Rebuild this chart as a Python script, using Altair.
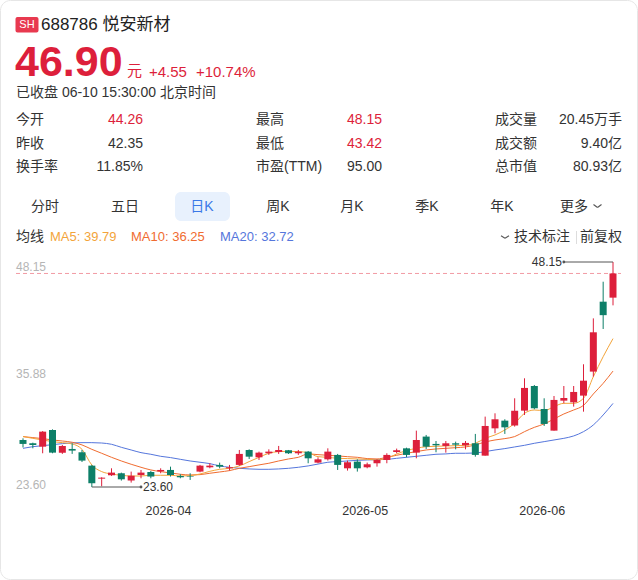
import altair as alt
import pandas as pd

# ---------------- data ----------------
dates = (
    ["2026-03-%02d" % d for d in [11, 12, 13, 16, 17, 18, 19, 20, 23, 24, 25, 26, 27, 30, 31]]
    + ["2026-04-%02d" % d for d in [1, 2, 7, 8, 9, 10, 13, 14, 15, 16, 17, 20, 21, 22, 23, 24, 27, 28, 29, 30]]
    + ["2026-05-%02d" % d for d in [6, 7, 8, 11, 12, 13, 14, 15, 18, 19, 20, 21, 22, 25, 26, 27, 28, 29]]
    + ["2026-06-%02d" % d for d in [1, 2, 3, 4, 5, 8, 9, 10]]
)
opens = [28.73, 28.37, 28.00, 29.82, 27.35, 27.75, 27.39, 25.93, 24.51, 24.88,
         25.10, 24.30, 24.91, 25.24, 25.31, 25.46, 24.80, 24.80, 25.28, 25.75,
         26.01, 25.64, 26.01, 27.64, 26.84, 27.28, 27.42, 27.61, 27.28, 27.46,
         26.26, 26.62, 27.10, 25.64, 26.37, 25.75, 26.19, 26.55, 27.42, 27.82,
         27.35, 29.10, 28.30, 28.08, 28.37, 28.15, 28.37, 27.02, 30.00, 30.84,
         30.30, 31.93, 34.62, 32.11, 29.75, 33.02, 32.84, 33.57, 36.19, 43.82,
         44.26]
highs = [28.91, 28.44, 29.70, 29.89, 28.19, 28.37, 27.64, 26.01, 24.66, 25.64,
         25.17, 25.28, 25.46, 25.35, 25.64, 25.82, 24.99, 25.10, 26.01, 26.19,
         26.26, 26.01, 27.64, 27.71, 27.46, 27.71, 28.08, 27.64, 27.64, 27.53,
         26.84, 27.82, 27.21, 26.48, 26.62, 26.26, 26.62, 27.28, 27.79, 27.89,
         29.75, 29.28, 28.62, 28.62, 28.55, 28.62, 29.39, 31.28, 31.64, 30.99,
         33.28, 35.46, 34.73, 33.28, 33.53, 34.62, 34.62, 36.99, 42.00, 46.00,
         48.15]
lows = [27.91, 27.82, 27.28, 27.28, 27.21, 27.21, 26.33, 23.60, 23.68, 24.81,
        24.30, 24.08, 24.55, 24.55, 25.10, 24.74, 24.55, 24.37, 25.21, 25.64,
        25.64, 25.39, 25.90, 26.66, 26.55, 27.10, 27.21, 27.21, 27.10, 26.19,
        26.19, 26.48, 25.46, 25.39, 25.28, 25.64, 25.82, 26.19, 27.28, 26.84,
        26.73, 27.75, 27.39, 27.35, 27.71, 27.71, 26.91, 27.02, 29.46, 29.39,
        30.19, 31.46, 32.08, 30.26, 29.75, 32.73, 32.37, 31.82, 35.64, 40.84,
        43.42]
closes = [28.30, 28.19, 29.64, 27.35, 28.08, 27.57, 26.48, 24.01, 24.62, 25.17,
          24.44, 24.84, 25.17, 24.74, 25.46, 24.91, 24.66, 24.74, 25.93, 25.93,
          25.82, 25.75, 27.21, 26.91, 27.35, 27.46, 27.64, 27.28, 27.46, 26.73,
          26.62, 27.46, 26.01, 26.30, 25.64, 26.08, 26.55, 27.10, 27.61, 27.10,
          28.73, 28.00, 28.15, 28.37, 28.22, 28.41, 27.10, 30.26, 30.99, 30.11,
          31.93, 34.41, 32.19, 30.48, 33.10, 33.31, 33.97, 35.20, 40.48, 42.35,
          46.90]
ma5 = [29.10, 28.91, 28.73, 28.55, 28.44, 28.30, 27.71, 26.00, 25.28, 25.02,
       24.88, 24.80, 24.80, 24.88, 24.88, 24.88, 24.80, 24.84, 25.02, 25.31,
       25.53, 25.64, 25.90, 26.37, 26.84, 27.28, 27.46, 27.50, 27.46, 27.35,
       26.91, 26.84, 26.73, 26.70, 26.66, 26.62, 26.55, 26.73, 27.20, 27.57,
       27.82, 28.00, 28.04, 28.08, 28.11, 28.15, 28.37, 28.91, 29.28, 29.82,
       30.55, 31.64, 32.00, 31.93, 32.37, 32.73, 32.73, 33.28, 35.64, 37.82,
       39.79]
ma10 = [29.10, 28.99, 28.88, 28.73, 28.62, 28.48, 28.19, 27.71, 27.28, 26.84,
        26.44, 26.08, 25.75, 25.46, 25.28, 25.13, 24.99, 24.91, 24.95, 25.10,
        25.24, 25.39, 25.64, 25.82, 26.01, 26.19, 26.44, 26.66, 26.84, 27.21,
        27.13, 27.06, 26.99, 26.91, 26.84, 26.70, 26.66, 26.84, 27.06, 27.28,
        27.46, 27.64, 27.75, 27.82, 27.89, 27.97, 28.19, 28.51, 28.73, 28.88,
        29.10, 29.64, 30.11, 30.48, 31.02, 31.57, 32.00, 32.51, 33.75, 34.91,
        36.25]
ma20 = [27.82, 28.00, 28.11, 28.22, 28.33, 28.41, 28.44, 28.44, 28.40, 28.26,
        27.93, 27.64, 27.35, 27.17, 26.95, 26.81, 26.62, 26.44, 26.30, 26.15,
        25.90, 25.75, 25.64, 25.57, 25.53, 25.53, 25.57, 25.64, 25.75, 25.90,
        26.10, 26.30, 26.37, 26.44, 26.51, 26.55, 26.59, 26.62, 26.73, 26.84,
        26.95, 27.06, 27.17, 27.21, 27.28, 27.28, 27.31, 27.46, 27.64, 27.79,
        27.97, 28.15, 28.37, 28.55, 28.73, 28.91, 29.17, 29.64, 30.37, 31.46,
        32.72]

y_ticks = [48.15, 35.88, 23.60]
last_close = 46.90
max_high = 48.15
min_low = 23.60

stock_code = "688786"
stock_name = "悦安新材"
price_text = "46.90"
change_text = "+4.55"
pct_text = "+10.74%"
status_text = "已收盘 06-10 15:30:00 北京时间"

info_labels = [["今开", "昨收", "换手率"], ["最高", "最低", "市盈(TTM)"], ["成交量", "成交额", "总市值"]]
info_values = [["44.26", "42.35", "11.85%"], ["48.15", "43.42", "95.00"], ["20.45万手", "9.40亿", "80.93亿"]]
info_red = [[True, False, False], [True, True, False], [False, False, False]]

tabs = ["分时", "五日", "日K", "周K", "月K", "季K", "年K", "更多"]
ma_labels = ["MA5: 39.79", "MA10: 36.25", "MA20: 32.72"]

# ---------------- styling ----------------
FONT = "Liberation Sans, Noto Sans CJK SC, sans-serif"
RED = "#dd1f3b"
GREEN = "#0d7f68"
TXT = "#333333"
C5, C10, C20 = "#f3a43a", "#f06c30", "#5576dc"

df = pd.DataFrame({"i": list(range(len(dates))), "date": dates, "open": opens,
                   "high": highs, "low": lows, "close": closes,
                   "ma5": ma5, "ma10": ma10, "ma20": ma20})
df["dir"] = ["up" if c >= o else "down" for o, c in zip(opens, closes)]

n = len(dates)
xs = alt.Scale(domain=[0, n - 1], range=[18, 618], nice=False, zero=False)
ys = alt.Scale(domain=[min_low, max_high], range=[487, 262], nice=False, zero=False)
cs = alt.Scale(domain=["up", "down"], range=[RED, GREEN])

one = pd.DataFrame({"k": [0]})


def txt(t, x, y, size=14, color=TXT, weight="normal", align="left", baseline="middle", font=FONT):
    return alt.Chart(one).mark_text(fontSize=size, color=color, fontWeight=weight,
                                    align=align, baseline=baseline, font=font).encode(
        x=alt.value(x), y=alt.value(y), text=alt.value(t))


def box(x, x2, y, y2, fill, radius=0, stroke=None):
    kw = dict(cornerRadius=radius, fill=fill)
    if stroke:
        kw.update(stroke=stroke, strokeWidth=1)
    return alt.Chart(one).mark_rect(**kw).encode(
        x=alt.value(x), x2=alt.value(x2), y=alt.value(y), y2=alt.value(y2))


layers = []
# card
layers.append(box(0.5, 637.5, 0.5, 579.5, "#ffffff", radius=10, stroke="#e6e6e6"))

# header
layers.append(box(15.5, 38.5, 17, 32.5, "#e8394f", radius=2))
layers.append(txt("SH", 27, 25, size=11, color="#ffffff", align="center"))
layers.append(txt(stock_code + " " + stock_name, 41, 24.5, size=17, color="#222222"))
layers.append(txt(price_text, 15, 76, size=43, color=RED, weight="bold", baseline="alphabetic"))
layers.append(txt("元", 127, 76, size=15, color=RED, baseline="alphabetic"))
layers.append(txt(change_text, 149, 77, size=15, color=RED, baseline="alphabetic"))
layers.append(txt(pct_text, 196, 77, size=15, color=RED, baseline="alphabetic"))
layers.append(txt(status_text, 16, 92.5, size=14, color=TXT))

# info grid
label_x = [16, 256, 495]
value_x = [143, 382, 622]
row_y = [120, 144, 167]
for c in range(3):
    for r in range(3):
        layers.append(txt(info_labels[c][r], label_x[c], row_y[r], size=14, color=TXT))
        layers.append(txt(info_values[c][r], value_x[c], row_y[r], size=14,
                          color=RED if info_red[c][r] else TXT, align="right"))

# tabs
tab_x = [45, 125, 202, 278, 352, 427, 502, 577]
layers.append(box(175, 230, 192, 221, "#e8f1fd", radius=6))
for t, x in zip(tabs, tab_x):
    col = "#3b78e7" if t == "日K" else TXT
    if t == "更多":
        layers.append(txt(t, x - 3, 207, size=14, color=TXT, align="center"))
    else:
        layers.append(txt(t, x, 207, size=14, color=col, align="center"))

# small chevrons drawn as two short rules each
for (cx, cy, hw, hh, colr) in [(597.5, 206, 4, 3, "#555555"), (505, 237, 4, 2.5, "#555555")]:
    layers.append(alt.Chart(one).mark_rule(color=colr, strokeWidth=1.1).encode(
        x=alt.value(cx - hw), y=alt.value(cy - hh / 2), x2=alt.value(cx), y2=alt.value(cy + hh / 2)))
    layers.append(alt.Chart(one).mark_rule(color=colr, strokeWidth=1.1).encode(
        x=alt.value(cx), y=alt.value(cy + hh / 2), x2=alt.value(cx + hw), y2=alt.value(cy - hh / 2)))

# MA legend row
layers.append(txt("均线", 16, 237, size=14, color=TXT))
for t, x, col in zip(ma_labels, [50, 131, 220], [C5, C10, C20]):
    layers.append(txt(t, x, 237, size=13, color=col))
layers.append(txt("技术标注", 514, 237, size=14, color=TXT))
layers.append(alt.Chart(one).mark_rule(color="#dddddd").encode(
    x=alt.value(576.5), y=alt.value(231), y2=alt.value(244)))
layers.append(txt("前复权", 622, 237, size=14, color=TXT, align="right"))

# ---------------- price chart ----------------
X = alt.X("i:Q", scale=xs, axis=None)

# last-close dashed line
lc = pd.DataFrame({"v": [last_close]})
layers.append(alt.Chart(lc).mark_rule(color="#f29aa4", strokeDash=[4, 3], strokeWidth=1).encode(
    x=alt.value(16), x2=alt.value(621), y=alt.Y("v:Q", scale=ys, axis=None)))

# y labels
for v, dy in zip(y_ticks, [5, 0, -2]):
    layers.append(alt.Chart(pd.DataFrame({"v": [v]})).mark_text(
        align="left", baseline="middle", dy=dy, fontSize=12, color="#b5b5b5", font=FONT).encode(
        x=alt.value(16), y=alt.Y("v:Q", scale=ys, axis=None), text=alt.Text("v:Q", format=".2f")))

# moving averages
for col, c in [("ma20", C20), ("ma10", C10), ("ma5", C5)]:
    layers.append(alt.Chart(df).mark_line(color=c, strokeWidth=1, interpolate="monotone").encode(
        x=X, y=alt.Y(col + ":Q", scale=ys, axis=None)))

# candles
layers.append(alt.Chart(df).mark_rule(strokeWidth=1).encode(
    x=X, y=alt.Y("low:Q", scale=ys, axis=None), y2="high:Q",
    color=alt.Color("dir:N", scale=cs, legend=None)))
layers.append(alt.Chart(df).mark_bar(size=7).encode(
    x=X, y=alt.Y("open:Q", scale=ys, axis=None), y2="close:Q",
    color=alt.Color("dir:N", scale=cs, legend=None)))

# max / min annotations
i_max = highs.index(max_high)
i_min = lows.index(min_low)
ann = pd.DataFrame({
    "a": [i_max - 5, i_min], "b": [i_max, i_min + 5], "v": [max_high, min_low],
    "dot": [i_max - 5, i_min + 5], "t": ["%.2f" % max_high, "%.2f" % min_low],
})
layers.append(alt.Chart(ann).mark_rule(color="#555555", strokeWidth=1).encode(
    x=alt.X("a:Q", scale=xs, axis=None), x2="b:Q", y=alt.Y("v:Q", scale=ys, axis=None)))
layers.append(alt.Chart(ann).mark_point(filled=True, size=8, color="#555555", opacity=1).encode(
    x=alt.X("dot:Q", scale=xs, axis=None), y=alt.Y("v:Q", scale=ys, axis=None)))
layers.append(alt.Chart(ann.iloc[[0]]).mark_text(align="right", baseline="middle", dx=-2, fontSize=12,
                                                 color=TXT, font=FONT).encode(
    x=alt.X("dot:Q", scale=xs, axis=None), y=alt.Y("v:Q", scale=ys, axis=None), text="t:N"))
layers.append(alt.Chart(ann.iloc[[1]]).mark_text(align="left", baseline="middle", dx=2, fontSize=12,
                                                 color=TXT, font=FONT).encode(
    x=alt.X("dot:Q", scale=xs, axis=None), y=alt.Y("v:Q", scale=ys, axis=None), text="t:N"))

# month labels (first trading day of each new month)
mi, ml = [], []
for k in range(1, n):
    if dates[k][:7] != dates[k - 1][:7]:
        mi.append(k)
        ml.append(dates[k][:7])
months = pd.DataFrame({"i": mi, "label": ml})
layers.append(alt.Chart(months).mark_text(align="center", baseline="middle", fontSize=12.5,
                                          color="#333333", font=FONT, dx=-2).encode(
    x=X, y=alt.value(511), text="label:N"))

chart = alt.layer(*layers).properties(
    width=638, height=580, padding=0,
    autosize=alt.AutoSizeParams(type="none"),
    background="#ffffff",
).configure_view(stroke=None)

chart.save("out.html", embed_options={"renderer": "svg", "actions": False})
